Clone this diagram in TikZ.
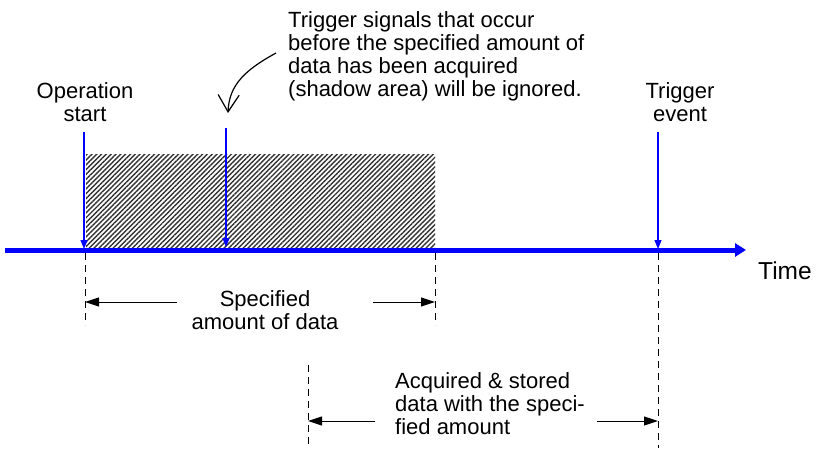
\documentclass[tikz,border=0pt]{standalone}
\usepackage{fontspec}
\setmainfont{Liberation Sans}
\usetikzlibrary{arrows.meta,patterns.meta}
\begin{document}
\begin{tikzpicture}[x=1pt,y=-1pt,
  lbl/.style={font=\fontsize{22}{23}\selectfont, inner sep=0pt, align=center},
  lbll/.style={font=\fontsize{22}{23}\selectfont, inner sep=0pt, align=left},
  bluearr/.style={draw=blue, line width=1.2pt, -{Triangle[length=9pt,width=7pt]}},
  dimarr/.style={draw=black, line width=1pt, -{Triangle[length=14pt,width=9pt]}},
  vdash/.style={draw=black, line width=1pt, dash pattern=on 7pt off 5pt},
]
\useasboundingbox (0,0) rectangle (824,448);
% shaded area
\fill[pattern={Lines[angle=45,distance=3.4pt,line width=1.4pt]}, pattern color=black!80] (86,154) rectangle (435,250);
% timeline
\coordinate (tl0) at (5,250);
\coordinate (tl1) at (746,250);
\draw[blue, line width=5pt, -{Triangle[length=11pt,width=13pt]}] (tl0) -- (tl1);
% dashed verticals
\coordinate (d1a) at (85,253); \coordinate (d1b) at (85,325);
\coordinate (d2a) at (435,253); \coordinate (d2b) at (435,325);
\coordinate (d3a) at (308,365); \coordinate (d3b) at (308,445);
\coordinate (d4a) at (658,253); \coordinate (d4b) at (658,448);
\draw[vdash] (d1a) -- (d1b);
\draw[vdash] (d2a) -- (d2b);
\draw[vdash] (d3a) -- (d3b);
\draw[vdash] (d4a) -- (d4b);
% labels
\node[lbl] (opstart) at (85,102) {Operation\\start};
\node[lbl] (trigev) at (680,102) {Trigger\\event};
\node[lbll, anchor=north west] (note) at (288,11) {Trigger signals that occur\\before the specified amount of\\data has been acquired\\(shadow area) will be ignored.};
\node[font=\fontsize{24.5}{25}\selectfont, inner sep=0pt, anchor=west] (time) at (758,271) {Time};
\node[lbl] (spec) at (265,310) {Specified\\amount of data};
\node[lbll, anchor=north west] (acq) at (395,372) {Acquired \& stored\\data with the speci-\\fied amount};
% blue arrows
\coordinate (a1s) at (84,132); \coordinate (a1e) at (84,249);
\coordinate (a2s) at (226,128); \coordinate (a2e) at (226,247);
\coordinate (a3s) at (658,132); \coordinate (a3e) at (658,249);
\draw[bluearr] (a1s) -- (a1e);
\draw[bluearr] (a2s) -- (a2e);
\draw[bluearr] (a3s) -- (a3e);
% curved arrow
\coordinate (cs) at (276,53); \coordinate (ce) at (228,113);
\draw[line width=1.2pt, -{Straight Barb[length=17pt,width=21pt,line width=1.2pt]}] (cs) .. controls (245,70) and (229,85) .. (ce);
% dimension arrows
\coordinate (s1) at (177,302); \coordinate (e1) at (85,302);
\coordinate (s2) at (373,302); \coordinate (e2) at (435,302);
\draw[dimarr] (s1) -- (e1);
\draw[dimarr] (s2) -- (e2);
\coordinate (s3) at (375,421); \coordinate (e3) at (308,421);
\coordinate (s4) at (597,421); \coordinate (e4) at (658,421);
\draw[dimarr] (s3) -- (e3);
\draw[dimarr] (s4) -- (e4);
\end{tikzpicture}
\end{document}
